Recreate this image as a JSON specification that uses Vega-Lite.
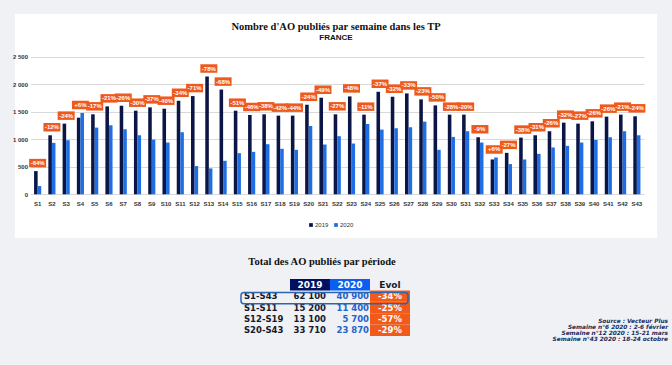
{
  "$schema": "https://vega.github.io/schema/vega-lite/v6.json",
  "width": 642,
  "height": 224,
  "autosize": {"type": "none"},
  "padding": {"left": 15, "top": 14, "right": 15, "bottom": 127},
  "background": "#eff1f5",
  "config": {
    "view": {"fill": "white", "stroke": null},
    "locale": {"number": {"decimal": ",", "thousands": " ", "grouping": [3], "currency": ["", " €"]}},
    "font": "Liberation Sans"
  },
  "title": {
    "text": "Nombre d'AO publiés par semaine dans les TP",
    "subtitle": "FRANCE",
    "font": "Liberation Serif",
    "fontSize": 10.5,
    "fontWeight": "bold",
    "color": "#111111",
    "subtitleFont": "Liberation Sans",
    "subtitleFontSize": 8,
    "subtitleFontWeight": "bold",
    "subtitleColor": "#111111",
    "subtitlePadding": 2,
    "anchor": "middle",
    "frame": "group",
    "offset": -28
  },
  "layer": [
    {
      "data": {"values": [
        {"w": "S1", "2019": 421, "2020": 150, "e": "-64%"},
        {"w": "S2", "2019": 1071, "2020": 933, "e": "-12%"},
        {"w": "S3", "2019": 1282, "2020": 981, "e": "-24%"},
        {"w": "S4", "2019": 1390, "2020": 1475, "e": "+6%"},
        {"w": "S5", "2019": 1451, "2020": 1210, "e": "-17%"},
        {"w": "S6", "2019": 1595, "2020": 1252, "e": "-21%"},
        {"w": "S7", "2019": 1607, "2020": 1180, "e": "-26%"},
        {"w": "S8", "2019": 1517, "2020": 1071, "e": "-30%"},
        {"w": "S9", "2019": 1577, "2020": 993, "e": "-37%"},
        {"w": "S10", "2019": 1553, "2020": 939, "e": "-40%"},
        {"w": "S11", "2019": 1697, "2020": 1126, "e": "-34%"},
        {"w": "S12", "2019": 1782, "2020": 512, "e": "-71%"},
        {"w": "S13", "2019": 2137, "2020": 470, "e": "-78%"},
        {"w": "S14", "2019": 1900, "2020": 608, "e": "-68%"},
        {"w": "S15", "2019": 1517, "2020": 746, "e": "-51%"},
        {"w": "S16", "2019": 1439, "2020": 770, "e": "-46%"},
        {"w": "S17", "2019": 1451, "2020": 909, "e": "-38%"},
        {"w": "S18", "2019": 1427, "2020": 825, "e": "-42%"},
        {"w": "S19", "2019": 1427, "2020": 807, "e": "-44%"},
        {"w": "S20", "2019": 1625, "2020": 1240, "e": "-24%"},
        {"w": "S21", "2019": 1752, "2020": 903, "e": "-49%"},
        {"w": "S22", "2019": 1451, "2020": 1054, "e": "-27%"},
        {"w": "S23", "2019": 1776, "2020": 921, "e": "-48%"},
        {"w": "S24", "2019": 1445, "2020": 1276, "e": "-11%"},
        {"w": "S25", "2019": 1860, "2020": 1174, "e": "-37%"},
        {"w": "S26", "2019": 1770, "2020": 1198, "e": "-32%"},
        {"w": "S27", "2019": 1830, "2020": 1216, "e": "-33%"},
        {"w": "S28", "2019": 1722, "2020": 1318, "e": "-23%"},
        {"w": "S29", "2019": 1613, "2020": 807, "e": "-50%"},
        {"w": "S30", "2019": 1445, "2020": 1041, "e": "-28%"},
        {"w": "S31", "2019": 1445, "2020": 1144, "e": "-20%"},
        {"w": "S32", "2019": 1035, "2020": 939, "e": "-9%"},
        {"w": "S33", "2019": 632, "2020": 668, "e": "+6%"},
        {"w": "S34", "2019": 752, "2020": 548, "e": "-27%"},
        {"w": "S35", "2019": 1029, "2020": 632, "e": "-38%"},
        {"w": "S36", "2019": 1071, "2020": 734, "e": "-31%"},
        {"w": "S37", "2019": 1144, "2020": 849, "e": "-26%"},
        {"w": "S38", "2019": 1300, "2020": 879, "e": "-32%"},
        {"w": "S39", "2019": 1282, "2020": 939, "e": "-27%"},
        {"w": "S40", "2019": 1324, "2020": 987, "e": "-26%"},
        {"w": "S41", "2019": 1409, "2020": 1035, "e": "-26%"},
        {"w": "S42", "2019": 1445, "2020": 1144, "e": "-21%"},
        {"w": "S43", "2019": 1415, "2020": 1071, "e": "-24%"}
      ]},
      "transform": [{"fold": ["2019", "2020"], "as": ["year", "value"]}],
      "encoding": {
        "x": {
          "field": "w", "type": "nominal", "sort": null,
          "scale": {"range": [15.5, 629], "paddingInner": 0.5, "paddingOuter": 0.25},
          "axis": {
            "title": null, "labelAngle": 0, "ticks": false, "domain": false,
            "labelFontSize": 6, "labelFontWeight": "bold", "labelColor": "#333333",
            "labelPadding": 6, "offset": -43.7, "labelOverlap": false, "grid": false
          }
        }
      },
      "layer": [
        {
          "mark": {"type": "bar"},
          "encoding": {
            "xOffset": {"field": "year", "type": "nominal", "scale": {"paddingInner": 0}},
            "y": {
              "field": "value", "type": "quantitative",
              "scale": {"domain": [0, 2500], "range": [180.3, 42.5], "nice": false},
              "axis": {
                "title": null, "values": [0, 500, 1000, 1500, 2000, 2500], "format": ",.0f",
                "ticks": false, "domain": false, "grid": true, "gridColor": "#d9d9d9",
                "labelFontSize": 6, "labelFontWeight": "bold", "labelColor": "#333333",
                "labelPadding": 3, "offset": -15.5
              }
            },
            "color": {
              "field": "year", "type": "nominal",
              "scale": {"domain": ["2019", "2020"], "range": ["#0b1646", "#1f6ee3"]},
              "legend": {
                "orient": "none", "legendX": 293, "legendY": 208, "direction": "horizontal",
                "title": null, "symbolType": "square", "symbolSize": 14, "labelFontSize": 6,
                "labelColor": "#333333", "columnPadding": 4, "labelOffset": 1
              }
            }
          }
        },
        {
          "mark": {"type": "point", "shape": "M-1,-0.5H1V0.5H-1Z", "size": 289, "filled": true, "color": "#ee5a1e", "opacity": 1, "strokeWidth": 0, "yOffset": -8},
          "encoding": {
            "y": {"aggregate": "max", "field": "value", "type": "quantitative"},
            "detail": {"field": "e"}
          }
        },
        {
          "mark": {"type": "text", "color": "white", "fontSize": 6, "fontWeight": "bold", "baseline": "middle", "yOffset": -8},
          "encoding": {
            "y": {"aggregate": "max", "field": "value", "type": "quantitative"},
            "text": {"field": "e"}
          }
        }
      ]
    },
    {
      "data": {"values": [
        {"p": "S1-S43", "a": 62100, "b": 40900, "e": "-34%"},
        {"p": "S1-S11", "a": 15200, "b": 11400, "e": "-25%"},
        {"p": "S12-S19", "a": 13100, "b": 5700, "e": "-57%"},
        {"p": "S20-S43", "a": 33710, "b": 23870, "e": "-29%"}
      ]},
      "layer": [
        {
          "data": {"values": [{"h": "2019"}, {"h": "2020"}]},
          "mark": {"type": "rect"},
          "encoding": {
            "x": {"field": "h", "type": "nominal", "scale": {"domain": ["2019", "2020", "Evol"], "range": [275, 395], "paddingInner": 0, "paddingOuter": 0}, "axis": null},
            "y": {"datum": "header", "type": "nominal", "scale": {"domain": ["title", "gap", "header", "S1-S43", "S1-S11", "S12-S19", "S20-S43"], "range": [242.2, 322], "paddingInner": 0, "paddingOuter": 0}, "axis": null},
            "fill": {"field": "h", "type": "nominal", "scale": {"domain": ["2019", "2020"], "range": ["#001060", "#0b5ff0"]}, "legend": null}
          }
        },
        {
          "data": {"values": [{"h": "2019"}, {"h": "2020"}, {"h": "Evol"}]},
          "mark": {"type": "text", "fontSize": 9, "fontWeight": "bold", "font": "DejaVu Sans", "baseline": "middle"},
          "encoding": {
            "x": {"field": "h", "type": "nominal"},
            "y": {"datum": "header", "type": "nominal"},
            "text": {"field": "h"},
            "color": {"field": "h", "type": "nominal", "scale": {"domain": ["2019", "2020", "Evol"], "range": ["#ffffff", "#ffffff", "#151a2c"]}, "legend": null}
          }
        },
        {
          "mark": {"type": "rect", "color": "#f25a1a"},
          "encoding": {
            "x": {"datum": "Evol", "type": "nominal"},
            "y": {"field": "p", "type": "nominal"}
          }
        },
        {
          "mark": {"type": "text", "fontSize": 8.5, "fontWeight": "bold", "font": "DejaVu Sans", "align": "left", "baseline": "middle", "dx": -66, "color": "#151a2c"},
          "encoding": {
            "x": {"datum": "2019", "type": "nominal"},
            "y": {"field": "p", "type": "nominal"},
            "text": {"field": "p"}
          }
        },
        {
          "mark": {"type": "text", "fontSize": 8.5, "fontWeight": "bold", "font": "DejaVu Sans", "align": "right", "baseline": "middle", "dx": 16, "color": "#151a2c"},
          "encoding": {
            "x": {"datum": "2019", "type": "nominal"},
            "y": {"field": "p", "type": "nominal"},
            "text": {"field": "a", "type": "quantitative", "format": ","}
          }
        },
        {
          "mark": {"type": "text", "fontSize": 8.5, "fontWeight": "bold", "font": "DejaVu Sans", "align": "right", "baseline": "middle", "dx": 19, "color": "#2262cc"},
          "encoding": {
            "x": {"datum": "2020", "type": "nominal"},
            "y": {"field": "p", "type": "nominal"},
            "text": {"field": "b", "type": "quantitative", "format": ","}
          }
        },
        {
          "mark": {"type": "text", "fontSize": 8.5, "fontWeight": "bold", "font": "DejaVu Sans", "align": "center", "baseline": "middle", "color": "#ffffff"},
          "encoding": {
            "x": {"datum": "Evol", "type": "nominal"},
            "y": {"field": "p", "type": "nominal"},
            "text": {"field": "e"}
          }
        },
        {
          "data": {"values": [{"r": "S1-S43"}]},
          "mark": {"type": "rect", "fillOpacity": 0, "stroke": "#2b64b0", "strokeWidth": 1.5, "cornerRadius": 3, "xOffset": -69, "x2Offset": 18, "yOffset": 2, "y2Offset": 1},
          "encoding": {
            "x": {"datum": "2019", "type": "nominal"},
            "x2": {"datum": "Evol"},
            "y": {"field": "r", "type": "nominal"}
          }
        },
        {
          "data": {"values": [{"t": "Total des AO publiés par période"}]},
          "mark": {"type": "text", "font": "Liberation Serif", "fontSize": 10.5, "fontWeight": "bold", "color": "#111111", "baseline": "middle", "dx": 12},
          "encoding": {
            "x": {"datum": "2019", "type": "nominal"},
            "y": {"datum": "title", "type": "nominal"},
            "text": {"field": "t"}
          }
        },
        {
          "data": {"values": [{"s": "Source : Vecteur Plus\nSemaine n°6 2020 : 2-6 février\nSemaine n°12 2020 : 15-21 mars\nSemaine n°43 2020 : 18-24 octobre"}]},
          "mark": {"type": "text", "font": "DejaVu Sans", "fontSize": 5.8, "fontWeight": "bold", "fontStyle": "italic", "color": "#1a2a55", "align": "right", "baseline": "top", "lineBreak": "\n", "lineHeight": 6, "dx": 278, "dy": -1},
          "encoding": {
            "x": {"datum": "Evol", "type": "nominal"},
            "y": {"datum": "S12-S19", "type": "nominal"},
            "text": {"field": "s"}
          }
        }
      ]
    }
  ],
  "resolve": {
    "scale": {"x": "independent", "y": "independent", "color": "independent"},
    "axis": {"x": "independent", "y": "independent"}
  }
}
